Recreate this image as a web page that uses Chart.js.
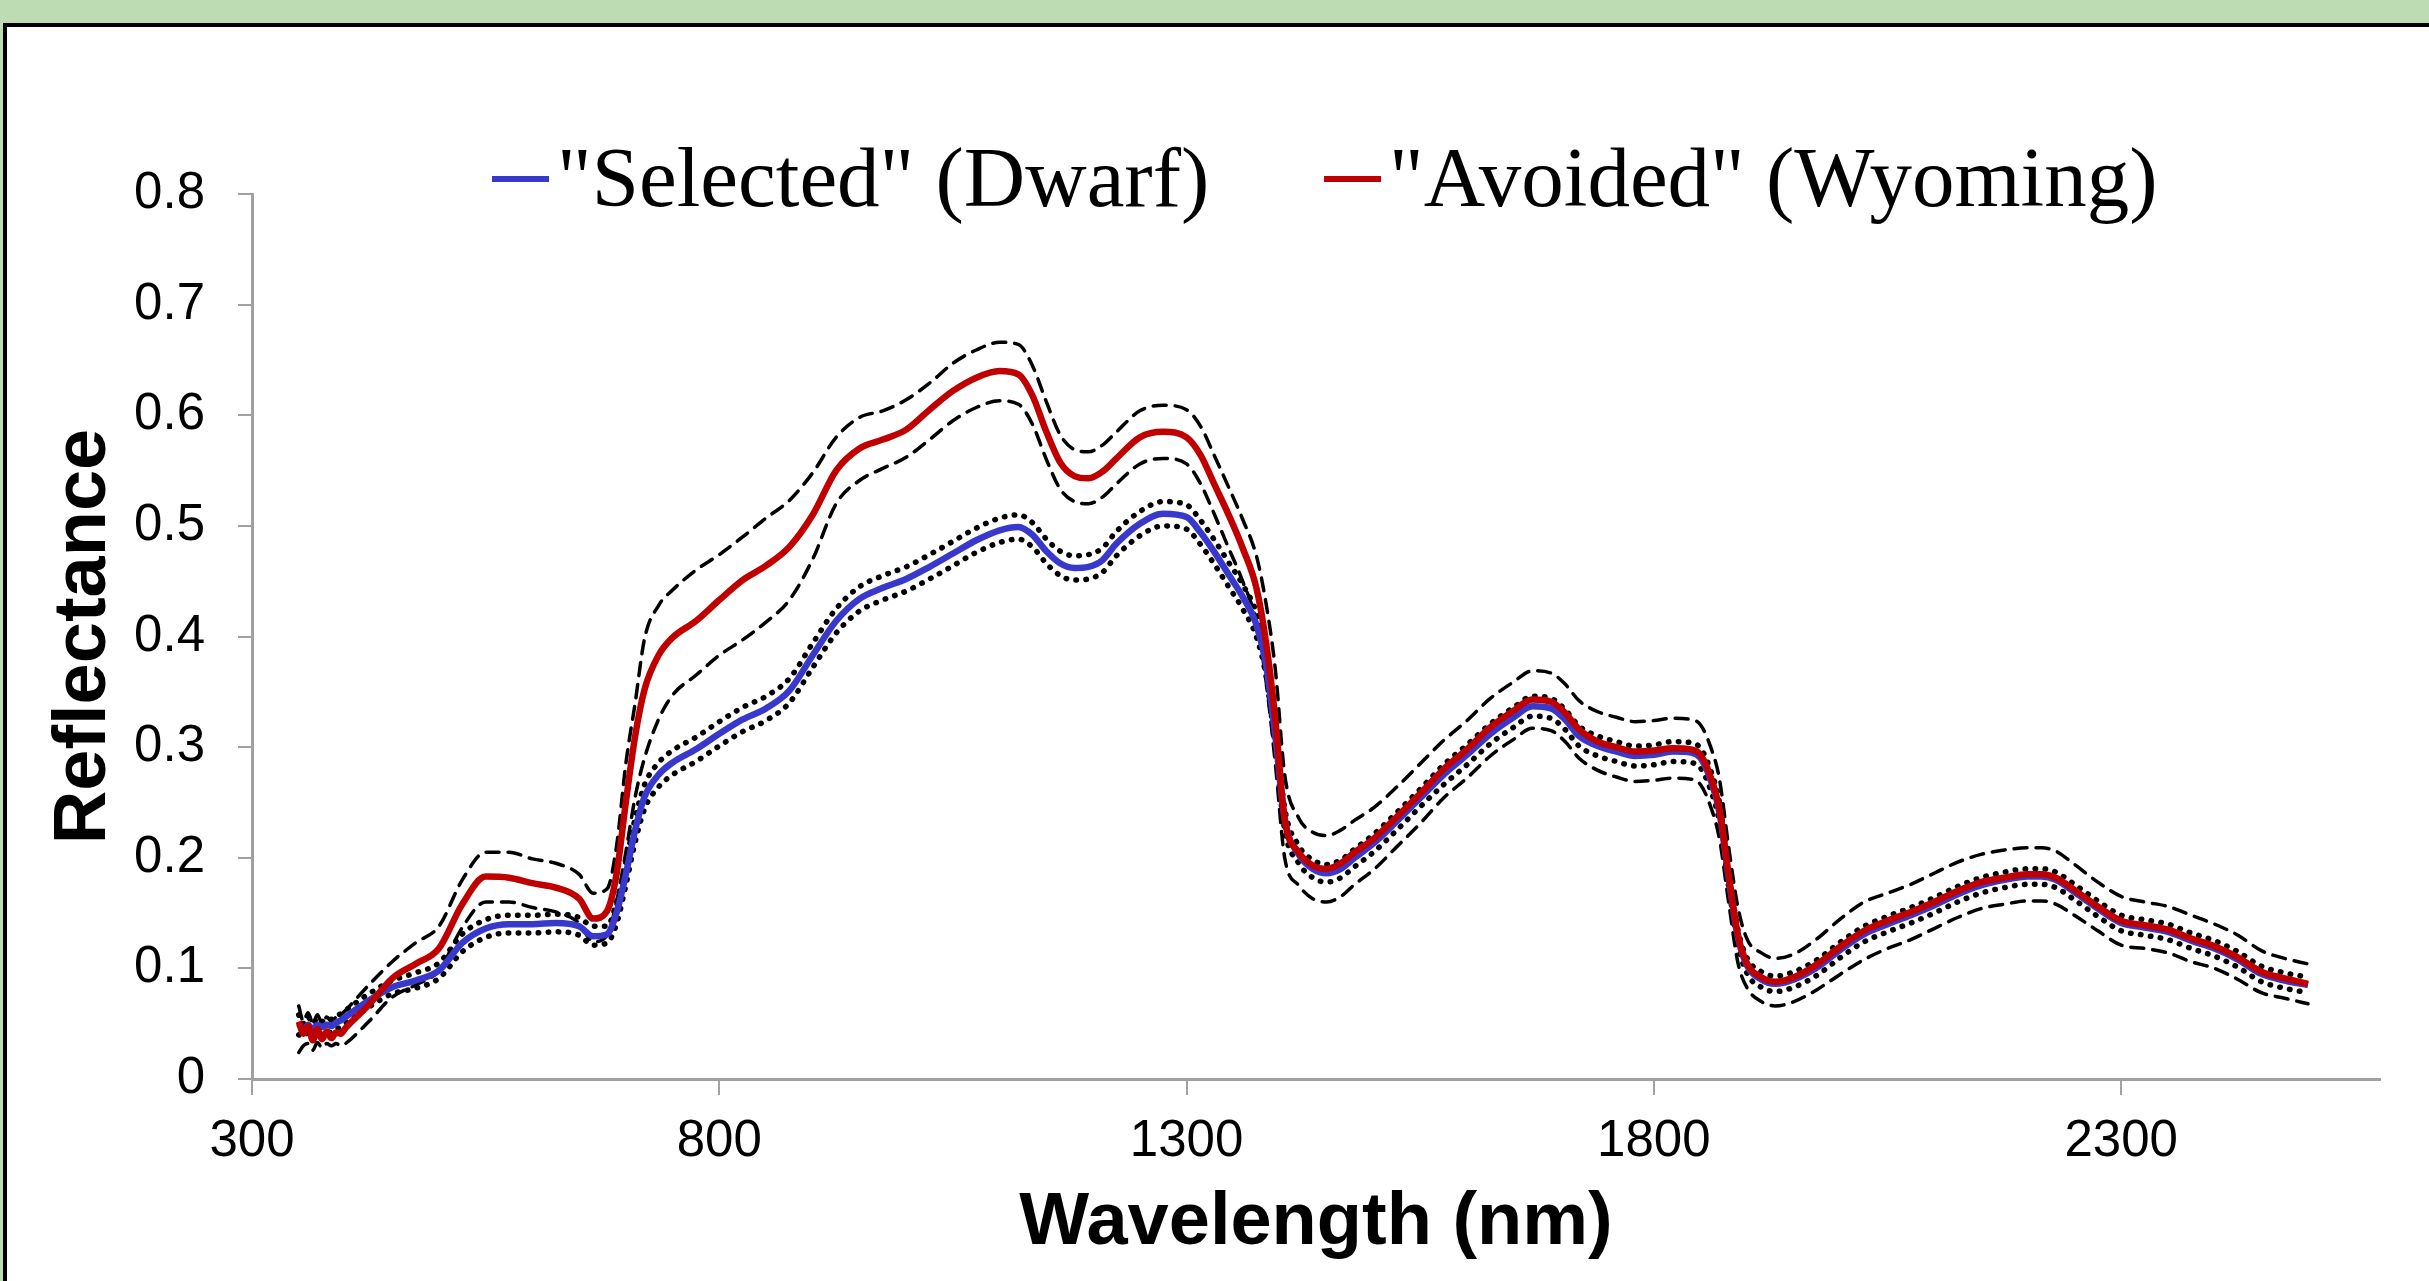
<!DOCTYPE html>
<html>
<head>
<meta charset="utf-8">
<script src="https://cdn.jsdelivr.net/npm/chart.js@4.4.1/dist/chart.umd.min.js"></script>
<style>
  html, body { margin: 0; padding: 0; }
  body { width: 2429px; height: 1281px; background: #bddcb3; overflow: hidden; position: relative; }
  #panel { position: absolute; left: 3px; top: 23px; width: 2500px; height: 1400px; background: #fff;
           border-left: 4px solid #000; border-top: 4px solid #000; }
  #chart { position: absolute; left: 0; top: 0; }
</style>
</head>
<body>
<div id="panel"></div>
<canvas id="chart" width="2429" height="1281"></canvas>
<script>
// wavelengths (nm)
const wl = [
  350,355,360,365,370,375,380,385,390,395,400,
  425,450,475,500,525,550,575,600,625,650,
  665,680,690,700,710,720,735,750,775,800,
  825,850,875,900,925,950,975,1000,1025,1050,
  1075,1100,1120,1135,1150,1165,1180,1195,1210,1225,
  1250,1275,1300,1315,1330,1345,1360,1375,1385,1395,
  1405,1420,1435,1450,1465,1480,1500,1525,1550,1575,
  1600,1625,1650,1670,1690,1705,1720,1740,1760,1780,
  1800,1820,1840,1850,1860,1870,1880,1890,1900,1915,
  1930,1950,1975,2000,2025,2050,2075,2100,2125,2150,
  2175,2200,2215,2230,2250,2275,2300,2325,2350,2375,
  2400,2425,2450,2475,2500
];

// "Selected" (Dwarf) mean reflectance and its error band
const selMean = [
  0.050,0.045,0.049,0.045,0.049,0.047,0.049,0.048,0.051,0.053,0.056,
  0.071,0.083,0.089,0.098,0.123,0.136,0.140,0.140,0.141,0.138,
  0.129,0.131,0.150,0.185,0.225,0.255,0.275,0.286,0.298,0.312,
  0.325,0.335,0.351,0.383,0.414,0.434,0.444,0.452,0.463,0.475,
  0.487,0.496,0.499,0.492,0.477,0.466,0.462,0.463,0.469,0.484,
  0.502,0.511,0.508,0.494,0.476,0.456,0.436,0.410,0.375,0.310,
  0.235,0.203,0.190,0.186,0.190,0.200,0.213,0.233,0.254,0.275,
  0.293,0.312,0.327,0.337,0.335,0.325,0.310,0.301,0.296,0.292,
  0.293,0.296,0.295,0.290,0.272,0.242,0.182,0.128,0.102,0.090,
  0.086,0.090,0.101,0.117,0.131,0.140,0.148,0.157,0.167,0.175,
  0.180,0.183,0.183,0.180,0.169,0.154,0.141,0.137,0.133,0.125,
  0.118,0.108,0.095,0.089,0.085
];
const selUp = [
  0.058,0.050,0.056,0.050,0.055,0.052,0.055,0.054,0.057,0.059,0.062,
  0.077,0.089,0.096,0.105,0.131,0.144,0.148,0.148,0.149,0.146,
  0.138,0.138,0.160,0.196,0.236,0.266,0.286,0.297,0.309,0.323,
  0.336,0.346,0.362,0.394,0.425,0.445,0.455,0.463,0.474,0.486,
  0.498,0.507,0.510,0.503,0.488,0.477,0.473,0.474,0.480,0.495,
  0.513,0.522,0.519,0.505,0.487,0.467,0.447,0.421,0.386,0.321,
  0.245,0.211,0.198,0.194,0.198,0.208,0.221,0.241,0.262,0.284,
  0.302,0.321,0.336,0.346,0.344,0.334,0.319,0.310,0.305,0.301,
  0.302,0.305,0.304,0.299,0.281,0.251,0.190,0.135,0.109,0.097,
  0.093,0.097,0.108,0.124,0.138,0.147,0.155,0.164,0.174,0.182,
  0.187,0.190,0.190,0.187,0.176,0.161,0.148,0.144,0.140,0.132,
  0.125,0.115,0.102,0.096,0.092
];
const selLo = [
  0.040,0.038,0.042,0.038,0.043,0.040,0.043,0.042,0.045,0.047,0.050,
  0.065,0.077,0.082,0.091,0.115,0.128,0.132,0.132,0.133,0.130,
  0.121,0.123,0.140,0.175,0.214,0.244,0.264,0.275,0.287,0.301,
  0.314,0.324,0.340,0.372,0.403,0.423,0.433,0.441,0.452,0.464,
  0.476,0.485,0.488,0.481,0.466,0.455,0.451,0.452,0.458,0.473,
  0.491,0.500,0.497,0.483,0.465,0.445,0.425,0.399,0.364,0.299,
  0.225,0.195,0.182,0.178,0.182,0.192,0.205,0.225,0.246,0.266,
  0.284,0.303,0.318,0.328,0.326,0.316,0.301,0.292,0.287,0.283,
  0.284,0.287,0.286,0.281,0.263,0.233,0.174,0.121,0.095,0.083,
  0.079,0.083,0.094,0.110,0.124,0.133,0.141,0.150,0.160,0.168,
  0.173,0.176,0.176,0.173,0.162,0.147,0.134,0.130,0.126,0.118,
  0.111,0.101,0.088,0.082,0.078
];

// "Avoided" (Wyoming) mean reflectance and its error band
const avoMean = [
  0.052,0.041,0.048,0.035,0.045,0.036,0.043,0.037,0.042,0.041,0.046,
  0.067,0.091,0.104,0.118,0.158,0.183,0.182,0.177,0.173,0.163,
  0.145,0.152,0.185,0.250,0.310,0.352,0.383,0.399,0.414,0.433,
  0.451,0.464,0.481,0.510,0.550,0.570,0.578,0.587,0.605,0.622,
  0.634,0.640,0.637,0.618,0.585,0.557,0.545,0.543,0.549,0.561,
  0.580,0.585,0.580,0.564,0.537,0.510,0.480,0.443,0.395,0.325,
  0.235,0.205,0.193,0.190,0.195,0.205,0.217,0.237,0.258,0.280,
  0.298,0.318,0.333,0.343,0.341,0.331,0.316,0.305,0.300,0.296,
  0.297,0.299,0.298,0.293,0.275,0.245,0.185,0.130,0.104,0.092,
  0.088,0.092,0.104,0.120,0.134,0.143,0.151,0.160,0.170,0.178,
  0.182,0.185,0.185,0.182,0.171,0.156,0.143,0.139,0.135,0.127,
  0.120,0.110,0.097,0.091,0.086
];
const avoUp = [
  0.066,0.052,0.060,0.050,0.058,0.050,0.056,0.052,0.056,0.058,0.062,
  0.085,0.106,0.123,0.138,0.180,0.205,0.205,0.199,0.195,0.185,
  0.168,0.172,0.210,0.285,0.340,0.398,0.428,0.442,0.460,0.474,
  0.490,0.507,0.523,0.548,0.580,0.598,0.604,0.614,0.629,0.647,
  0.659,0.666,0.664,0.645,0.612,0.582,0.569,0.567,0.573,0.585,
  0.604,0.609,0.605,0.590,0.563,0.535,0.506,0.472,0.430,0.370,
  0.275,0.236,0.223,0.220,0.225,0.234,0.245,0.264,0.285,0.306,
  0.324,0.344,0.359,0.369,0.367,0.357,0.342,0.332,0.327,0.323,
  0.324,0.326,0.325,0.320,0.302,0.272,0.210,0.155,0.126,0.114,
  0.109,0.113,0.127,0.145,0.160,0.168,0.176,0.186,0.196,0.203,
  0.207,0.209,0.209,0.206,0.194,0.178,0.165,0.160,0.156,0.148,
  0.140,0.130,0.116,0.109,0.104
];
const avoLo = [
  0.024,0.030,0.032,0.026,0.033,0.028,0.032,0.030,0.032,0.030,0.032,
  0.052,0.074,0.085,0.098,0.137,0.160,0.160,0.155,0.151,0.141,
  0.124,0.130,0.160,0.205,0.255,0.290,0.325,0.347,0.365,0.383,
  0.397,0.413,0.433,0.470,0.520,0.541,0.552,0.562,0.578,0.595,
  0.607,0.613,0.610,0.592,0.560,0.533,0.522,0.520,0.526,0.538,
  0.556,0.561,0.556,0.538,0.510,0.480,0.450,0.412,0.360,0.285,
  0.200,0.175,0.163,0.160,0.165,0.176,0.189,0.210,0.231,0.254,
  0.272,0.292,0.307,0.317,0.315,0.305,0.290,0.279,0.273,0.269,
  0.270,0.272,0.271,0.266,0.248,0.218,0.160,0.105,0.082,0.070,
  0.066,0.070,0.081,0.095,0.108,0.118,0.126,0.136,0.146,0.154,
  0.158,0.161,0.161,0.158,0.148,0.134,0.121,0.118,0.114,0.106,
  0.100,0.090,0.078,0.073,0.068
];

const xTicks = [300, 800, 1300, 1800, 2300];
const yTicks = [0, 0.1, 0.2, 0.3, 0.4, 0.5, 0.6, 0.7, 0.8];
const yTickLabels = ['0', '0.1', '0.2', '0.3', '0.4', '0.5', '0.6', '0.7', '0.8'];

const BLUE = '#3838cc';
const RED = '#c00000';
const AXIS = '#a0a0a0';
const SANS = '"Liberation Sans", Arial, sans-serif';

const pts = arr => wl.map((x, i) => ({ x: x, y: arr[i] }));

function lineSet(label, arr, color, width, dash, order) {
  return {
    label: label,
    data: pts(arr),
    borderColor: color,
    borderWidth: width,
    borderDash: dash,
    borderCapStyle: dash.length ? 'round' : 'butt',
    borderJoinStyle: 'round',
    pointRadius: 0,
    fill: false,
    cubicInterpolationMode: 'monotone',
    order: order
  };
}

// legend sits inside the plot, like the original
const legendItems = [
  { idx: 0, x: 492 },
  { idx: 1, x: 1324 }
];
const legendPlugin = {
  id: 'topLegend',
  afterDatasetsDraw(chart) {
    const ctx = chart.ctx;
    ctx.save();
    ctx.font = '85px "Liberation Serif", "Times New Roman", serif';
    ctx.textBaseline = 'alphabetic';
    ctx.fillStyle = '#000';
    legendItems.forEach(item => {
      const ds = chart.data.datasets[item.idx];
      ctx.strokeStyle = ds.borderColor;
      ctx.lineWidth = 6;
      ctx.beginPath();
      ctx.moveTo(item.x, 179);
      ctx.lineTo(item.x + 57, 179);
      ctx.stroke();
      ctx.fillText(ds.label, item.x + 65, 206);
    });
    ctx.restore();
  }
};

new Chart(document.getElementById('chart'), {
  type: 'line',
  data: {
    datasets: [
      lineSet('"Selected" (Dwarf)', selMean, BLUE, 6.5, [], 2),
      lineSet('"Avoided" (Wyoming)', avoMean, RED, 6.5, [], 1),
      lineSet('sel+', selUp, '#000', 5.5, [0.5, 9.5], 3),
      lineSet('sel-', selLo, '#000', 5.5, [0.5, 9.5], 3),
      lineSet('avo+', avoUp, '#000', 3.5, [13, 9], 4),
      lineSet('avo-', avoLo, '#000', 3.5, [13, 9], 4)
    ]
  },
  options: {
    responsive: false,
    devicePixelRatio: 1,
    animation: false,
    layout: { padding: { left: 0, top: 194, right: 49, bottom: 0 } },
    plugins: {
      legend: { display: false },
      tooltip: { enabled: false }
    },
    scales: {
      x: {
        type: 'linear',
        min: 300,
        max: 2577,
        afterBuildTicks: s => { s.ticks = xTicks.map(v => ({ value: v })); },
        afterFit: s => { s.height = 202; },
        grid: { drawOnChartArea: false, drawTicks: true, tickLength: 16, color: AXIS, lineWidth: 2 },
        border: { display: true, color: AXIS, width: 3 },
        ticks: {
          font: { family: SANS, size: 51 },
          color: '#000',
          padding: 16,
          maxRotation: 0,
          autoSkip: false,
          callback: v => String(v)
        },
        title: {
          display: true,
          text: 'Wavelength (nm)',
          color: '#000',
          font: { family: SANS, size: 74, weight: 'bold' },
          padding: { top: 0, bottom: 13 }
        }
      },
      y: {
        type: 'linear',
        min: 0,
        max: 0.8,
        afterBuildTicks: s => { s.ticks = yTicks.map(v => ({ value: v })); },
        afterFit: s => { s.width = 252; },
        grid: { drawOnChartArea: false, drawTicks: true, tickLength: 14, color: AXIS, lineWidth: 2 },
        border: { display: true, color: AXIS, width: 3 },
        ticks: {
          font: { family: SANS, size: 51 },
          color: '#000',
          padding: 33,
          autoSkip: false,
          callback: (v, i) => yTickLabels[i]
        },
        title: {
          display: true,
          text: 'Reflectance',
          color: '#000',
          font: { family: SANS, size: 74, weight: 'bold' },
          padding: { top: 40, bottom: 0 }
        }
      }
    }
  },
  plugins: [legendPlugin]
});
</script>
</body>
</html>
